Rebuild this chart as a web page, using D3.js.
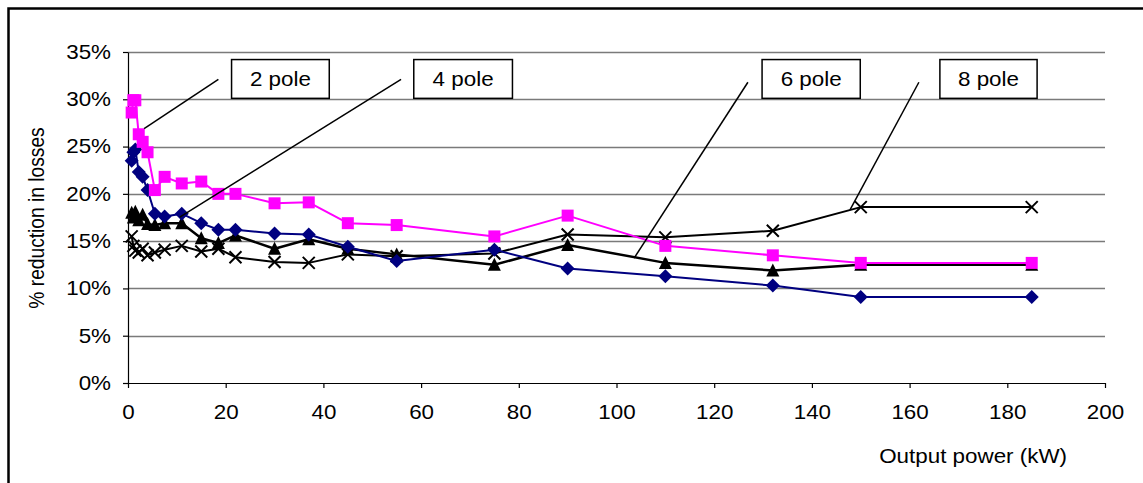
<!DOCTYPE html>
<html><head><meta charset="utf-8">
<script src="https://cdnjs.cloudflare.com/ajax/libs/d3/7.8.5/d3.min.js"></script>
<style>
html,body{margin:0;padding:0;background:#fff;}
svg{display:block;font-family:"Liberation Sans",Arial,sans-serif;}
</style></head>
<body><svg id="c" width="1143" height="483"></svg>
<script>
const power = [0.75,1.1,1.5,2.2,3,4,5.5,7.5,11,15,18.5,22,30,37,45,55,75,90,110,132,150,185];
const pole2 = [28.6,29.9,29.9,26.3,25.5,24.4,20.4,21.8,21.1,21.3,20.0,20.0,19.0,19.1,16.9,16.7,15.5,17.7,14.5,13.5,12.7,12.7];
const pole4 = [23.5,24.4,24.7,22.3,21.8,20.4,17.9,17.6,17.9,16.9,16.2,16.2,15.8,15.7,14.4,12.9,14.1,12.1,11.3,10.3,9.1,9.1];
const pole6 = [18.0,17.5,18.1,17.2,17.8,16.8,16.7,16.9,16.9,15.3,14.8,15.6,14.2,15.2,14.2,13.6,12.5,14.6,12.7,11.9,12.5,12.5];
const pole8 = [15.5,14.5,14.0,13.8,14.2,13.5,13.8,14.1,14.5,13.9,14.2,13.3,12.8,12.7,13.6,13.4,13.7,15.7,15.4,16.1,18.6,18.6];
const xTicks = [0,20,40,60,80,100,120,140,160,180,200];
const yTicks = [0,5,10,15,20,25,30,35];
const labelNames = ["2 pole","4 pole","6 pole","8 pole"];
const boxLeft = [21.2,58.5,129.8,166.2];
const boxRight = [41.2,78.7,149.9,186.1];
const boxTop = [34.2,34.2,34.2,34.2];
const boxBottom = [30.1,30.1,30.1,30.1];
const leadFromX = [18.5,55.9,126.9,161.9];
const leadFromY = [32.1,32.1,31.8,31.8];
const leadToX = [3.3,10.6,103.6,147.8];
const leadToY = [26.9,17.55,13.2,18.3];

const SX = 1.12; // horizontal stretch of the reference text
const svg = d3.select("#c");
const x = d3.scaleLinear().domain([0,200]).range([128,1105]);
const y = d3.scaleLinear().domain([0,35]).range([383,52]);

// frame
svg.append("path").attr("d","M8.5,483 L8.5,8.5 L1143,8.5").attr("fill","none").attr("stroke","#000").attr("stroke-width",2.5);

// grid
svg.append("g").selectAll("line").data(yTicks.filter(d=>d>0)).join("line")
  .attr("x1",x(0)).attr("x2",x(200)).attr("y1",d=>Math.round(y(d))+0.5).attr("y2",d=>Math.round(y(d))+0.5)
  .attr("stroke","#7a7a7a").attr("stroke-width",1.3);

// axes
const ya = svg.append("g").attr("transform",`translate(${x(0)},0)`)
  .call(d3.axisLeft(y).tickValues(yTicks).tickFormat(d=>d+"%").tickSize(5).tickSizeOuter(0).tickPadding(12));
const xa = svg.append("g").attr("transform",`translate(0,${y(0)})`)
  .call(d3.axisBottom(x).tickValues(xTicks).tickSize(5).tickSizeOuter(0).tickPadding(17));
[ya,xa].forEach(g=>{
  g.selectAll("path,line").attr("stroke","#000").attr("stroke-width",1.2);
  g.selectAll("text").attr("font-size",20).attr("fill","#000").attr("font-family","Liberation Sans, Arial, sans-serif");
});
ya.selectAll("text").attr("x",-17/SX).attr("transform",`scale(${SX},1)`);
xa.selectAll("text").attr("transform",`scale(${SX},1)`);

svg.append("text").attr("transform","translate(44,218) rotate(-90) scale(0.96,1.08)").attr("text-anchor","middle")
  .attr("font-size",20).text("% reduction in losses");
svg.append("text").attr("transform",`translate(1067,463) scale(${SX},1)`).attr("text-anchor","end").attr("font-size",20).text("Output power (kW)");

// series
const series = [
  {v:pole8,color:"#000",w:2,m:"x"},
  {v:pole6,color:"#000",w:2.5,m:"tri"},
  {v:pole4,color:"#000080",w:2,m:"dia"},
  {v:pole2,color:"#FF00FF",w:2,m:"sq"}
];
const line = d3.line().x(d=>x(d[0])).y(d=>y(d[1]));
series.forEach(s=>{
  const pts = power.map((p,i)=>[p,s.v[i]]);
  const g = svg.append("g");
  g.append("path").attr("d",line(pts)).attr("fill","none").attr("stroke",s.color).attr("stroke-width",s.w).attr("stroke-linejoin","round");
  const mk = g.selectAll("g").data(pts).join("g").attr("transform",d=>`translate(${x(d[0])},${y(d[1])})`);
  if(s.m==="sq") mk.append("rect").attr("x",-6).attr("y",-6).attr("width",12).attr("height",12).attr("fill",s.color);
  if(s.m==="dia") mk.append("path").attr("d","M0,-7 L7,0 L0,7 L-7,0Z").attr("fill",s.color);
  if(s.m==="tri") mk.append("path").attr("d","M0,-7 L6.5,6 L-6.5,6Z").attr("fill",s.color);
  if(s.m==="x") mk.append("path").attr("d","M-6,-6 L6,6 M6,-6 L-6,6").attr("stroke",s.color).attr("stroke-width",2);
});

// annotations
labelNames.forEach((name,i)=>{
  svg.append("line").attr("x1",x(leadFromX[i])).attr("y1",y(leadFromY[i])).attr("x2",x(leadToX[i])).attr("y2",y(leadToY[i]))
    .attr("stroke","#000").attr("stroke-width",1.5);
  const x0=x(boxLeft[i]), x1=x(boxRight[i]), y0=y(boxTop[i]), y1=y(boxBottom[i]);
  svg.append("rect").attr("x",x0).attr("y",y0).attr("width",x1-x0).attr("height",y1-y0)
    .attr("fill","#fff").attr("stroke","#000").attr("stroke-width",1.5);
  svg.append("text").attr("transform",`translate(${(x0+x1)/2},${(y0+y1)/2+7}) scale(${SX},1)`).attr("text-anchor","middle").attr("font-size",20).text(name);
});
</script></body></html>
